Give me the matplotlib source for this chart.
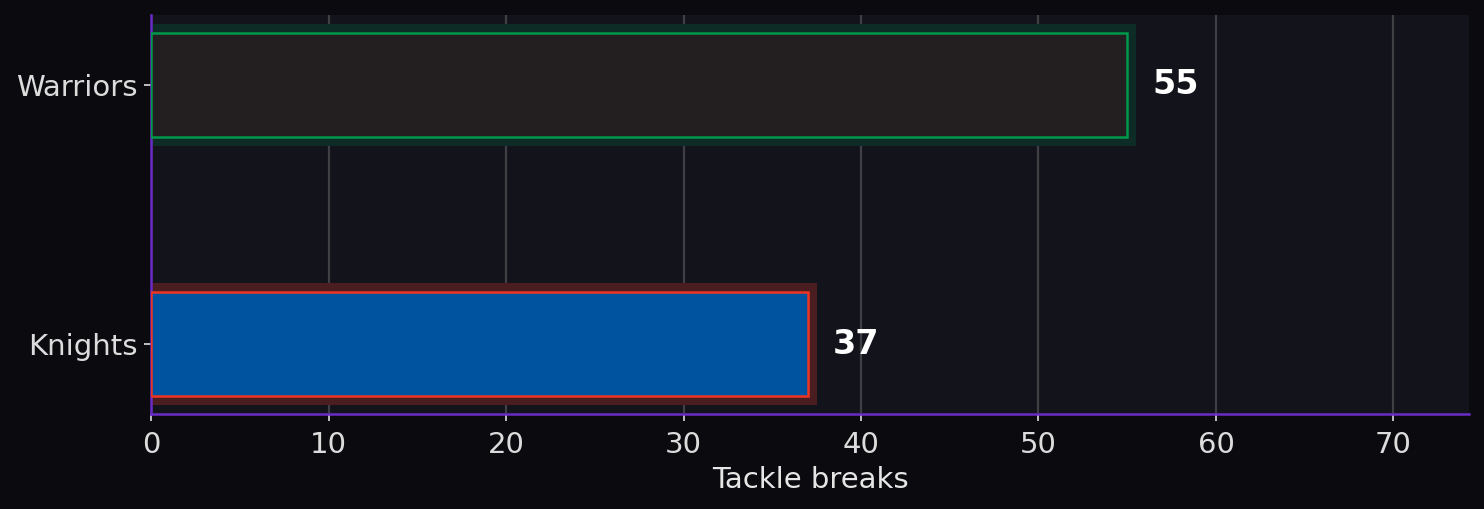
import matplotlib
matplotlib.use("Agg")
import matplotlib.pyplot as plt

teams = ["Knights", "Warriors"]
breaks = [37, 55]
fills = ["#00539f", "#231f20"]
edges = ["#ee3524", "#00984a"]
glows = ["#4a1d20", "#0d2c25"]

fig = plt.figure(figsize=(7.42, 2.545), dpi=200, facecolor="#0b0b0f")
ax = fig.add_axes([0.1018, 0.1866, 0.888, 0.7839])
ax.set_facecolor("#13131b")

y = list(range(len(teams)))
# glow behind each bar
ax.barh(y, breaks, height=0.4, color=glows, edgecolor=glows, linewidth=6.5, zorder=2)
ax.barh(y, breaks, height=0.4, color=fills, edgecolor=edges, linewidth=0.9, zorder=3)

for yi, v in zip(y, breaks):
    ax.annotate(str(v), (v, yi), xytext=(9, 0), textcoords="offset points",
                va="center", ha="left", color="white", fontsize=12, fontweight="bold")

ax.set_xlim(0, max(breaks) * 1.35)
ax.set_yticks(y)
ax.set_yticklabels(teams)
ax.set_xlabel("Tackle breaks", color="#e6e6e6", fontsize=10.5, labelpad=2.5)

ax.grid(axis="x", color="#404044", linewidth=0.8, zorder=0)
ax.set_axisbelow(True)
for s in ["top", "right"]:
    ax.spines[s].set_visible(False)
for s in ["left", "bottom"]:
    ax.spines[s].set_color("#6a2bc6")
    ax.spines[s].set_linewidth(0.9)
ax.tick_params(colors="#dcdcdc", labelsize=10.5, length=2.5, width=0.6)
ax.tick_params(axis="y", pad=2.5)

fig.savefig("out.png", facecolor=fig.get_facecolor())
